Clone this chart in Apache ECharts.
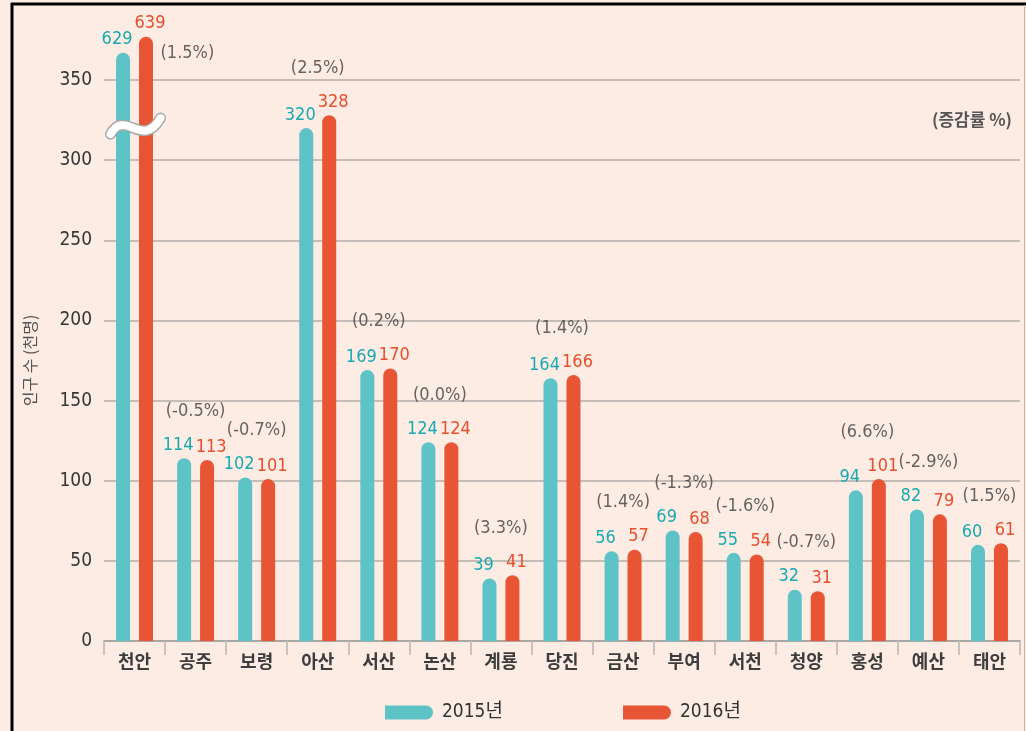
<!DOCTYPE html>
<html>
<head>
<meta charset="utf-8">
<script src="https://cdn.jsdelivr.net/npm/echarts@6/dist/echarts.min.js"></script>
<style>
  html, body { margin: 0; padding: 0; background: #fdece3; }
  #chart { width: 1026px; height: 731px; }
</style>
</head>
<body>
<div id="chart"></div>
<script>
// ---- data ----
const categories = ['천안','공주','보령','아산','서산','논산','계룡','당진','금산','부여','서천','청양','홍성','예산','태안'];
const pop2015 = [629,114,102,320,169,124,39,164,56,69,55,32,94,82,60];
const pop2016 = [639,113,101,328,170,124,41,166,57,68,54,31,101,79,61];
const changeRate = ['1.5','-0.5','-0.7','2.5','0.2','0.0','3.3','1.4','1.4','-1.3','-1.6','-0.7','6.6','-2.9','1.5'];
const seriesNames = ['2015년','2016년'];
const yMin = 0, yMax = 350, yStep = 50;
// axis break: values above BREAK_AT are drawn shortened by BREAK_SKIP
const BREAK_AT = 350, BREAK_SKIP = 262, BREAK_MARK_VALUE = 320;

const shown = v => (v > BREAK_AT ? v - BREAK_SKIP : v);

const NUM_FONT = "'Liberation Sans Narrow','DejaVu Sans Condensed','Noto Sans CJK KR',sans-serif";
const KR_FONT = "'Noto Sans CJK KR','DejaVu Sans Condensed',sans-serif";
const TEAL = '#5ec3c7', RED = '#e85535';

const chart = echarts.init(document.getElementById('chart'), null, { renderer: 'canvas' });

const rateData = categories.map((c, i) => {
  const item = { value: [i, Math.max(shown(pop2015[i]), shown(pop2016[i]))] };
  if (pop2016[i] > BREAK_AT) {
    item.label = { position: 'right', distance: 26, offset: [0, 17] };
  }
  return item;
});

const option = {
  backgroundColor: '#fdece3',
  animation: false,
  title: {
    text: '(증감률 %)',
    right: 9, top: 106,
    textStyle: { fontFamily: KR_FONT, fontSize: 17, fontWeight: 'bold', color: '#555' }
  },
  grid: { left: 104, right: 6, top: 80, bottom: 90, containLabel: false },
  legend: {
    data: seriesNames,
    left: 385, top: 703,
    padding: 0,
    itemWidth: 48, itemHeight: 14, itemGap: 120,
    icon: 'path://M0,0H41A7,7,0,0,1,41,14H0Z',
    textStyle: { fontFamily: NUM_FONT, fontSize: 19, color: '#333', padding: [0, 0, 0, 4] }
  },
  xAxis: {
    type: 'category',
    data: categories,
    boundaryGap: true,
    axisLine: { show: true, lineStyle: { color: '#a9a6a3', width: 2 } },
    axisTick: { show: true, interval: 0, length: 14, lineStyle: { color: '#c9c3bf', width: 2 } },
    axisLabel: { interval: 0, margin: 11, fontFamily: KR_FONT, fontSize: 18, fontWeight: 'bold', color: '#3d3d3d' },
    splitLine: { show: false }
  },
  yAxis: {
    type: 'value',
    min: yMin, max: yMax, interval: yStep,
    name: '인구 수 (천명)',
    nameLocation: 'middle', nameRotate: 90, nameGap: 66,
    nameTextStyle: { fontFamily: KR_FONT, fontSize: 16, color: '#555' },
    axisLine: { show: false },
    axisTick: { show: false },
    axisLabel: { margin: 12, fontFamily: NUM_FONT, fontSize: 19, color: '#363636' },
    splitLine: { show: true, lineStyle: { color: '#b4aeaa', width: 1.5 } }
  },
  series: [
    {
      name: seriesNames[0], type: 'bar', clip: false,
      data: pop2015.map(shown),
      barWidth: 14, barGap: '64%',
      itemStyle: { color: TEAL, borderRadius: [7, 7, 0, 0] },
      label: {
        show: true, position: 'top', distance: 4, offset: [-6, 0],
        formatter: p => String(pop2015[p.dataIndex]),
        fontFamily: NUM_FONT, fontSize: 18, color: '#18aab0'
      }
    },
    {
      name: seriesNames[1], type: 'bar', clip: false,
      data: pop2016.map(shown),
      barWidth: 14,
      itemStyle: { color: RED, borderRadius: [7, 7, 0, 0] },
      label: {
        show: true, position: 'top', distance: 4, offset: [4, 0],
        formatter: p => String(pop2016[p.dataIndex]),
        fontFamily: NUM_FONT, fontSize: 18, color: '#e64e2c'
      }
    },
    {
      name: 'rate', type: 'scatter', clip: false, silent: true,
      symbolSize: 0,
      data: rateData,
      label: {
        show: true, position: 'top', distance: 38,
        formatter: p => '(' + changeRate[p.dataIndex] + '%)',
        fontFamily: NUM_FONT, fontSize: 18, color: '#3e3e3e'
      }
    }
  ]
};
chart.setOption(option);

// break mark on the broken bars + frame lines
const graphics = [
  { id: 'frameTop', type: 'line', shape: { x1: 11, y1: 4, x2: 1026, y2: 4 }, style: { stroke: '#000', lineWidth: 3 }, z: 100 },
  { id: 'frameLeft', type: 'line', shape: { x1: 12, y1: 3, x2: 12, y2: 731 }, style: { stroke: '#000', lineWidth: 3 }, z: 100 },
  { id: 'frameRight', type: 'line', shape: { x1: 1024.5, y1: 5, x2: 1024.5, y2: 731 }, style: { stroke: '#c8b8ae', lineWidth: 1 }, z: 100 }
];
categories.forEach((c, i) => {
  if (Math.max(pop2015[i], pop2016[i]) > BREAK_AT) {
    const [cx, cy] = chart.convertToPixel({ xAxisIndex: 0, yAxisIndex: 0 }, [i, BREAK_MARK_VALUE]);
    const shape = { x1: cx - 24, y1: cy + 6, cpx1: cx - 10, cpy1: cy - 20, cpx2: cx + 8, cpy2: cy + 22, x2: cx + 26, y2: cy - 10 };
    graphics.push({ id: 'brkA' + i, type: 'bezierCurve', shape, style: { stroke: '#a8a8a8', lineWidth: 11, fill: null, lineCap: 'round' }, z: 50 });
    graphics.push({ id: 'brkB' + i, type: 'bezierCurve', shape, style: { stroke: '#ffffff', lineWidth: 8, fill: null, lineCap: 'round' }, z: 51 });
  }
});
chart.setOption({ graphic: graphics });
</script>
</body>
</html>
